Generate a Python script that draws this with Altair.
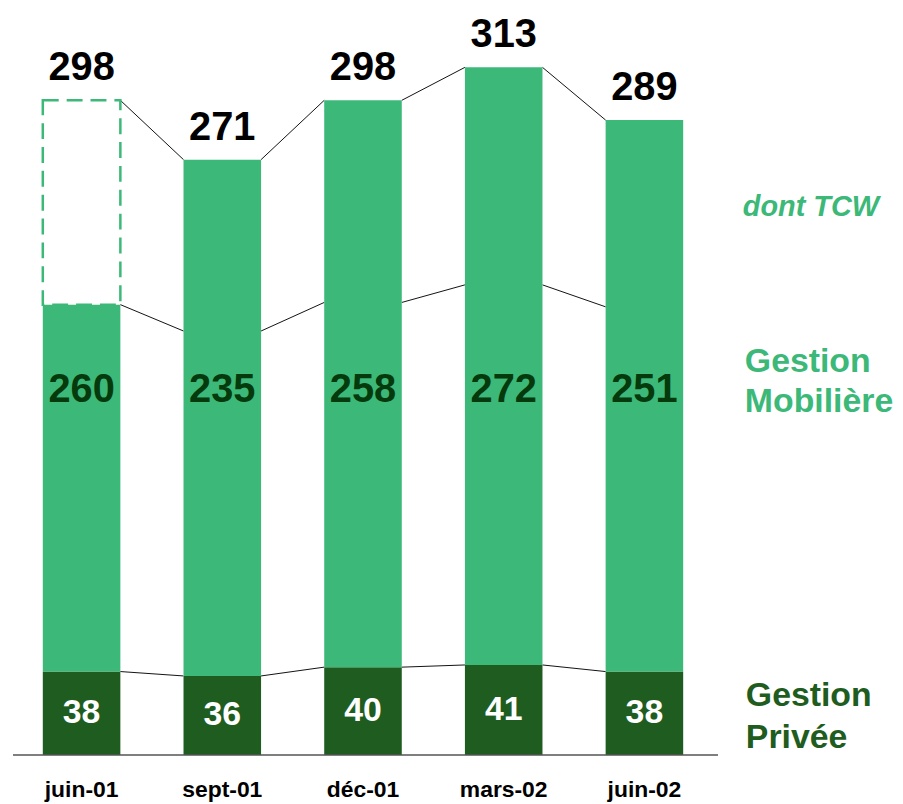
import altair as alt
import pandas as pd

# ---- data ----
months = ["juin-01", "sept-01", "déc-01", "mars-02", "juin-02"]
gestion_privee = [38, 36, 40, 41, 38]
gestion_mobiliere = [260, 235, 258, 272, 251]
totals = [298, 271, 298, 313, 289]
dont_tcw = [93, 78, 92, 99, 85]
tcw_pro_forma = [True, False, False, False, False]
mobiliere_label_level = 166

LIGHT = "#3CB878"
DARK = "#1F5C20"
MOB_TXT = "#053A0C"
FONT = "Liberation Sans"

HW = 0.2756  # half bar width, in category-step units

rows = []
for i, m in enumerate(months):
    tcw_base = totals[i] - dont_tcw[i]
    rows.append(dict(
        i=i, month=m, x0=i - HW, x1=i + HW, zero=0,
        privee=gestion_privee[i], mob=gestion_mobiliere[i], total=totals[i],
        tcw_base=tcw_base,
        light_top=tcw_base if tcw_pro_forma[i] else totals[i],
        privee_mid=gestion_privee[i] / 2,
        mob_level=mobiliere_label_level,
        pf=1 if tcw_pro_forma[i] else 0,
    ))
df = pd.DataFrame(rows)
df_pf = df[df["pf"] == 1]

segs = []
for i in range(len(months) - 1):
    for level in ["privee", "tcw_base", "total"]:
        segs.append(dict(xa=i + HW, xb=i + 1 - HW,
                         ya=rows[i][level], yb=rows[i + 1][level]))
seg_df = pd.DataFrame(segs)

xscale = alt.Scale(domain=[-0.4876, 4.5230], nice=False, zero=False)
yscale = alt.Scale(domain=[0, 339], nice=False, zero=True)

base = alt.Chart(df)

dark_bars = base.mark_rect(color=DARK).encode(
    x=alt.X("x0:Q", scale=xscale, axis=None),
    x2="x1:Q",
    y=alt.Y("privee:Q", scale=yscale, axis=None),
    y2="zero:Q",
)

light_bars = base.mark_rect(color=LIGHT).encode(
    x=alt.X("x0:Q", scale=xscale, axis=None), x2="x1:Q",
    y=alt.Y("light_top:Q", scale=yscale, axis=None), y2="privee:Q",
)

dashed = alt.Chart(df_pf).mark_rect(
    fillOpacity=0, stroke=LIGHT, strokeWidth=2.5, strokeDash=[16, 8]
).encode(
    x=alt.X("x0:Q", scale=xscale, axis=None), x2="x1:Q",
    y=alt.Y("total:Q", scale=yscale, axis=None), y2="tcw_base:Q",
)

connectors = alt.Chart(seg_df).mark_rule(color="#111111", strokeWidth=1).encode(
    x=alt.X("xa:Q", scale=xscale, axis=None), x2="xb:Q",
    y=alt.Y("ya:Q", scale=yscale, axis=None), y2="yb:Q",
)

axis_line = alt.Chart(pd.DataFrame({"a": [0]})).mark_rule(
    color="#555555", strokeWidth=1.5).encode(
    x=alt.value(0), x2=alt.value(709), y=alt.value(749))

month_txt = base.mark_text(font=FONT, fontSize=23, fontWeight="bold",
                           color="black", baseline="alphabetic").encode(
    x=alt.X("i:Q", scale=xscale, axis=None), y=alt.value(791), text="month:N")

total_txt = base.mark_text(font=FONT, fontSize=40, fontWeight="bold",
                           color="black", baseline="alphabetic", dy=-20).encode(
    x=alt.X("i:Q", scale=xscale, axis=None),
    y=alt.Y("total:Q", scale=yscale, axis=None), text="total:Q")

mob_txt = base.mark_text(font=FONT, fontSize=40, fontWeight="bold",
                         color=MOB_TXT, baseline="middle").encode(
    x=alt.X("i:Q", scale=xscale, axis=None),
    y=alt.Y("mob_level:Q", scale=yscale, axis=None),
    text="mob:Q")

priv_txt = base.mark_text(font=FONT, fontSize=34, fontWeight="bold",
                          color="white", baseline="middle").encode(
    x=alt.X("i:Q", scale=xscale, axis=None),
    y=alt.Y("privee_mid:Q", scale=yscale, axis=None),
    text="privee:Q")

side_labels = pd.DataFrame({
    "label": ["dont TCW", "Gestion", "Mobilière", "Gestion", "Privée"],
    "group": ["tcw", "mob", "mob", "priv", "priv"],
})


def side(label_idx, size, color, italic, px, py):
    d = side_labels.iloc[[label_idx]]
    kw = dict(font=FONT, fontSize=size, fontWeight="bold", color=color,
              align="left", baseline="alphabetic")
    if italic:
        kw["fontStyle"] = "italic"
    return alt.Chart(d).mark_text(**kw).encode(
        x=alt.value(px), y=alt.value(py), text="label:N")


labels = [
    side(0, 29, LIGHT, True, 734, 207),
    side(1, 34, LIGHT, False, 736, 364),
    side(2, 34, LIGHT, False, 736, 404),
    side(3, 34, DARK, False, 737, 700),
    side(4, 34, DARK, False, 737, 742),
]

chart = alt.layer(
    connectors, dark_bars, light_bars, dashed, axis_line, month_txt,
    total_txt, mob_txt, priv_txt, *labels,
).properties(
    width=709, height=749,
    autosize=alt.AutoSizeParams(type="none"),
    padding={"left": 5, "top": 0, "right": 178, "bottom": 48},
).configure_view(stroke=None)

chart.save("out.html", embed_options={"renderer": "svg", "actions": False})
